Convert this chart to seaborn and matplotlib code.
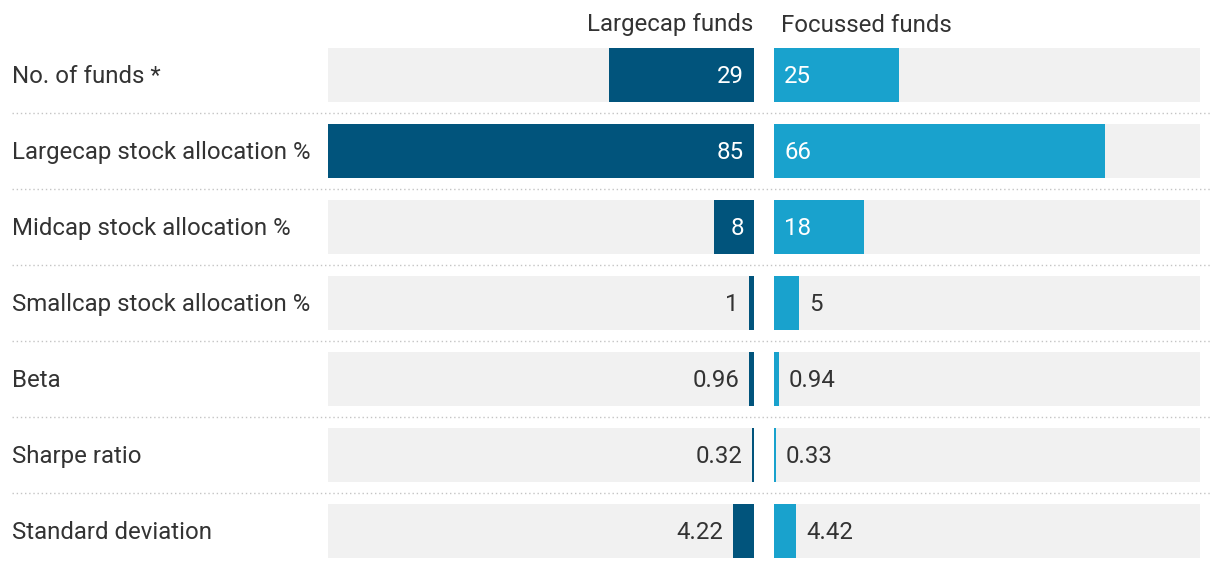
import matplotlib
matplotlib.use("Agg")
import matplotlib.pyplot as plt
from matplotlib.lines import Line2D
import seaborn as sns
import pandas as pd

categories = ["No. of funds *", "Largecap stock allocation %", "Midcap stock allocation %",
              "Smallcap stock allocation %", "Beta", "Sharpe ratio", "Standard deviation"]
largecap = [29, 85, 8, 1, 0.96, 0.32, 4.22]
focussed = [25, 66, 18, 5, 0.94, 0.33, 4.42]
series_names = ["Largecap funds", "Focussed funds"]
scale_max = 85

sns.set_theme(style="white")
plt.rcParams["font.family"] = ["Roboto", "DejaVu Sans"]

W, H = 1220, 568
fig = plt.figure(figsize=(W / 100, H / 100), dpi=100)
fig.patch.set_facecolor("white")

DARK = "#01547c"
LIGHT = "#19a2cd"
GREY = "#f1f1f1"
TXT = "#333333"
FS = 17.3

row0, rowstep = 75, 76
top = row0 - rowstep / 2
axh = rowstep * len(categories)
bottom = (H - (top + axh)) / H

axL = fig.add_axes([328 / W, bottom, 426 / W, axh / H])
axR = fig.add_axes([774 / W, bottom, 426 / W, axh / H])

bar_w = 54 / rowstep
df = pd.DataFrame({"cat": categories, "L": largecap, "R": focussed,
                   "bg": [scale_max] * len(categories)})

for ax, col, color in [(axL, "L", DARK), (axR, "R", LIGHT)]:
    sns.barplot(data=df, y="cat", x="bg", orient="h", color=GREY, width=bar_w, ax=ax,
                saturation=1, linewidth=0)
    sns.barplot(data=df, y="cat", x=col, orient="h", color=color, width=bar_w, ax=ax,
                saturation=1, linewidth=0)
    ax.set_ylim(len(categories) - 0.5, -0.5)
    ax.axis("off")
axL.set_xlim(scale_max, 0)
axR.set_xlim(0, scale_max)

fig.canvas.draw()
renderer = fig.canvas.get_renderer()
px_per_unit = 426 / scale_max
pad = 10
dy = 0.02  # small vertical nudge in row units


def label(ax, vals, left_side):
    for i, v in enumerate(vals):
        s = f"{v:g}"
        t = ax.text(0, i, s, fontsize=FS, va="center")
        tw = t.get_window_extent(renderer).width
        t.remove()
        inside = v * px_per_unit >= tw + 2 * pad
        if inside:
            x = pad / px_per_unit
            color = "white"
        else:
            x = v + pad / px_per_unit
            color = TXT
        ax.text(x, i + dy, s, fontsize=FS, va="center",
                ha="right" if left_side else "left", color=color)


label(axL, largecap, True)
label(axR, focussed, False)

for i, c in enumerate(categories):
    y = row0 + rowstep * i
    fig.text(12 / W, 1 - (y + 1.5) / H, c, fontsize=FS, va="center", ha="left", color=TXT)
    if i < len(categories) - 1:
        ys = 1 - (y + rowstep / 2) / H
        fig.add_artist(Line2D([12 / W, 1210 / W], [ys, ys], transform=fig.transFigure,
                              color="#c4c4c4", lw=1, linestyle=(0, (1, 2))))

fig.text(753 / W, 1 - 25 / H, series_names[0], fontsize=FS, va="center", ha="right", color=TXT)
fig.text(781 / W, 1 - 25 / H, series_names[1], fontsize=FS, va="center", ha="left", color=TXT)

fig.savefig("out.png", dpi=100, facecolor="white")
